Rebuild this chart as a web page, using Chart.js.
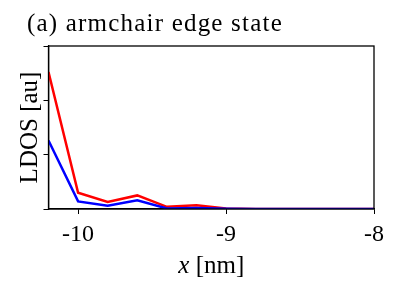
<!DOCTYPE html>
<html><head><meta charset="utf-8">
<script src="https://cdn.jsdelivr.net/npm/chart.js"></script>
<style>html,body{margin:0;padding:0;background:#fff}</style>
</head><body>
<canvas id="c" width="407" height="291"></canvas>
<script>
const xPositions = [-10.2, -10.0, -9.8, -9.6, -9.4, -9.2, -9.0, -8.8, -8.6, -8.4, -8.2, -8.0];
const ldosRed  = [2.52, 0.30, 0.13, 0.25, 0.04, 0.07, 0.01, 0, 0, 0, 0, 0];
const ldosBlue = [1.26, 0.14, 0.06, 0.16, 0.01, 0.02, 0.005, 0, 0, 0, 0, 0];
const xTickValues = [-10, -9, -8];
const yTickValues = [0, 1, 2, 3];
const titleText = '(a) armchair edge state';
const yLabel = 'LDOS [au]';
const xLabelItalic = 'x';
const xLabelRest = ' [nm]';
const FONT = "'Liberation Serif', 'DejaVu Serif', serif";

const textPlugin = {
  id: 'textAndFrame',
  afterDraw(chart) {
    const {ctx, chartArea: a} = chart;
    ctx.save();
    ctx.strokeStyle = '#000';
    ctx.lineWidth = 1.3;
    ctx.strokeRect(a.left, a.top, a.right - a.left, a.bottom - a.top);
    ctx.fillStyle = '#000';
    ctx.textBaseline = 'alphabetic';
    ctx.textAlign = 'left';
    ctx.font = '25px ' + FONT;
    if ('letterSpacing' in ctx) ctx.letterSpacing = '1.2px';
    ctx.fillText(titleText, 27, 31);
    if ('letterSpacing' in ctx) ctx.letterSpacing = '0px';
    ctx.font = 'italic 25px ' + FONT;
    const w1 = ctx.measureText(xLabelItalic).width;
    ctx.font = '25px ' + FONT;
    const w2 = ctx.measureText(xLabelRest).width;
    const cx = (a.left + a.right) / 2;
    const x0 = cx - (w1 + w2) / 2;
    ctx.font = 'italic 25px ' + FONT;
    ctx.fillText(xLabelItalic, x0, 273);
    ctx.font = '25px ' + FONT;
    ctx.fillText(xLabelRest, x0 + w1, 273);
    ctx.restore();
  }
};

const toXY = (vals) => vals.map((v, i) => ({x: xPositions[i], y: v}));

new Chart(document.getElementById('c'), {
  type: 'line',
  data: {
    datasets: [
      {data: toXY(ldosBlue), borderColor: '#0000ff', borderWidth: 2.5, pointRadius: 0, tension: 0, fill: false, order: 0},
      {data: toXY(ldosRed), borderColor: '#ff0000', borderWidth: 2.5, pointRadius: 0, tension: 0, fill: false, order: 1}
    ]
  },
  options: {
    responsive: false,
    devicePixelRatio: 1,
    animation: false,
    layout: {padding: {left: 0, right: 33, top: 46, bottom: 0}},
    plugins: {legend: {display: false}, tooltip: {enabled: false}, title: {display: false}},
    scales: {
      x: {
        type: 'linear', min: -10.2, max: -8,
        afterBuildTicks: s => { s.ticks = xTickValues.map(v => ({value: v})); },
        afterFit: s => { s.height = 82; },
        ticks: {color: '#000', font: {family: FONT, size: 24}, padding: 6, maxRotation: 0, autoSkip: false,
                callback: v => String(v)},
        grid: {drawOnChartArea: false, drawTicks: true, tickLength: 5, color: '#000', lineWidth: 1},
        border: {display: true, color: '#000', width: 1.3}
      },
      y: {
        type: 'linear', min: 0, max: 3,
        afterBuildTicks: s => { s.ticks = yTickValues.map(v => ({value: v})); },
        afterFit: s => { s.width = 48.5; },
        ticks: {display: false},
        grid: {drawOnChartArea: false, drawTicks: true, tickLength: 5, color: '#000', lineWidth: 1},
        border: {display: true, color: '#000', width: 1.3},
        title: {display: true, text: yLabel, color: '#000', font: {family: FONT, size: 25}, padding: {top: 15, bottom: 0}}
      }
    }
  },
  plugins: [textPlugin]
});
</script>
</body></html>
